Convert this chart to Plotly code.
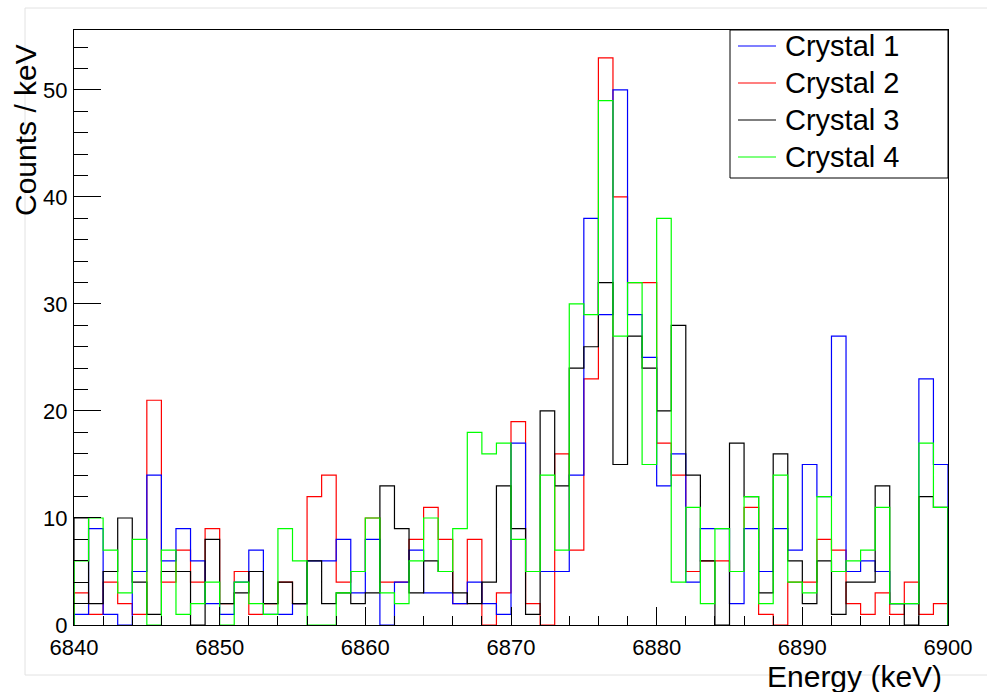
import numpy as np
import plotly.graph_objects as go

# Energy binning: 1 keV bins from 6840 to 6900 keV
e_min, e_max, bin_width = 6840, 6900, 1

crystal1 = [1, 9, 1, 0, 5, 14, 6, 9, 6, 2,
            1, 4, 7, 1, 1, 2, 6, 6, 8, 3,
            8, 0, 4, 7, 3, 3, 2, 4, 2, 1,
            17, 5, 5, 5, 14, 38, 29, 50, 29, 25,
            13, 16, 4, 9, 9, 2, 9, 5, 9, 7,
            15, 12, 27, 5, 6, 5, 2, 2, 23, 15]
crystal2 = [3, 1, 4, 2, 1, 21, 4, 7, 4, 9,
            2, 5, 1, 2, 4, 2, 12, 14, 4, 5,
            10, 4, 4, 8, 11, 8, 2, 8, 0, 3,
            19, 2, 0, 16, 7, 23, 53, 40, 32, 32,
            17, 14, 5, 6, 6, 5, 11, 1, 0, 4,
            4, 8, 7, 2, 1, 3, 1, 4, 1, 2]
crystal3 = [10, 2, 5, 10, 4, 1, 5, 5, 0, 8,
            2, 3, 5, 2, 4, 2, 6, 2, 3, 2,
            3, 13, 9, 3, 6, 5, 3, 2, 4, 13,
            9, 1, 20, 13, 24, 26, 32, 15, 27, 24,
            20, 28, 14, 6, 0, 17, 12, 3, 16, 6,
            2, 6, 1, 4, 4, 13, 2, 0, 12, 11]
crystal4 = [6, 10, 7, 3, 8, 0, 7, 1, 2, 4,
            0, 4, 2, 1, 9, 6, 0, 0, 3, 5,
            10, 3, 2, 6, 10, 5, 9, 18, 16, 17,
            8, 5, 14, 7, 30, 29, 49, 27, 32, 15,
            38, 4, 11, 2, 9, 5, 12, 2, 14, 4,
            3, 12, 5, 6, 7, 11, 2, 2, 17, 11]

names = ["Crystal 1", "Crystal 2", "Crystal 3", "Crystal 4"]
colors = ["#0000ff", "#ff0000", "#000000", "#00ff00"]
series = [crystal1, crystal2, crystal3, crystal4]

y_ticks = [0, 10, 20, 30, 40, 50]
x_ticks = [6840, 6850, 6860, 6870, 6880, 6890, 6900]

edges = np.arange(e_min, e_max + bin_width, bin_width)


def step_outline(counts):
    """Histogram outline: rise from the baseline, step across bins, drop back."""
    x = np.concatenate([[edges[0]], edges, [edges[-1]]])
    y = np.concatenate([[0], counts, [counts[-1], 0]])
    return x, y


fig = go.Figure()
# drawing order: crystal 2, crystal 1, crystal 3, crystal 4
for idx in [1, 0, 2, 3]:
    x, y = step_outline(series[idx])
    fig.add_trace(go.Scatter(
        x=x, y=y, mode="lines", name=names[idx],
        line=dict(color=colors[idx], width=1.2, shape="hv"),
        showlegend=False, hoverinfo="skip",
    ))

L, R, T, B = 74, 39, 30, 67
W, H = 987 - L - R, 692 - T - B


def px(xpix):
    return (xpix - L) / W


def py(ypix):
    return 1 - (ypix - T) / H


font = "Liberation Sans, Arial, sans-serif"
axis_common = dict(
    showline=True, linecolor="black", linewidth=1, mirror=True,
    ticks="inside", tickcolor="black", tickwidth=1,
    showgrid=False, zeroline=False,
    tickfont=dict(family=font, size=22, color="black"),
)

fig.update_xaxes(
    range=[e_min, e_max], tickvals=x_ticks, ticklen=18,
    minor=dict(ticks="inside", ticklen=9, dtick=2, tickcolor="black", tickwidth=1),
    ticklabelstandoff=3,
    **axis_common,
)
fig.update_yaxes(
    range=[0, 55.6], tickvals=y_ticks, ticklen=27,
    minor=dict(ticks="inside", ticklen=14, dtick=2, tickcolor="black", tickwidth=1),
    ticklabelstandoff=1,
    **axis_common,
)

shapes = [
    # faint canvas border
    dict(type="rect", xref="paper", yref="paper",
         x0=px(25), x1=px(992), y0=py(675), y1=py(8),
         line=dict(color="#e2e2e2", width=1), layer="below"),
    # legend box
    dict(type="rect", xref="paper", yref="paper",
         x0=px(730), x1=px(948), y0=py(178), y1=py(30),
         line=dict(color="black", width=1), fillcolor="white", layer="above"),
]
annotations = []
row_y = [46, 83, 120, 157]
for name, color, ry in zip(names, colors, row_y):
    shapes.append(dict(type="line", xref="paper", yref="paper",
                       x0=px(738), x1=px(776), y0=py(ry), y1=py(ry),
                       line=dict(color=color, width=1.2), layer="above"))
    annotations.append(dict(text=name, xref="paper", yref="paper",
                            x=px(783), y=py(ry), xanchor="left", yanchor="middle",
                            showarrow=False,
                            font=dict(family=font, size=29, color="black")))

annotations.append(dict(text="Energy (keV)", xref="paper", yref="paper",
                        x=px(944), y=py(676), xanchor="right", yanchor="middle",
                        showarrow=False, font=dict(family=font, size=30, color="black")))
annotations.append(dict(text="Counts / keV", xref="paper", yref="paper",
                        x=px(25), y=py(130), xanchor="center", yanchor="middle",
                        textangle=-90, showarrow=False,
                        font=dict(family=font, size=30, color="black")))

fig.update_layout(
    width=987, height=692,
    margin=dict(l=L, r=R, t=T, b=B),
    paper_bgcolor="white", plot_bgcolor="white",
    shapes=shapes, annotations=annotations,
)

fig.write_html("out.html")
